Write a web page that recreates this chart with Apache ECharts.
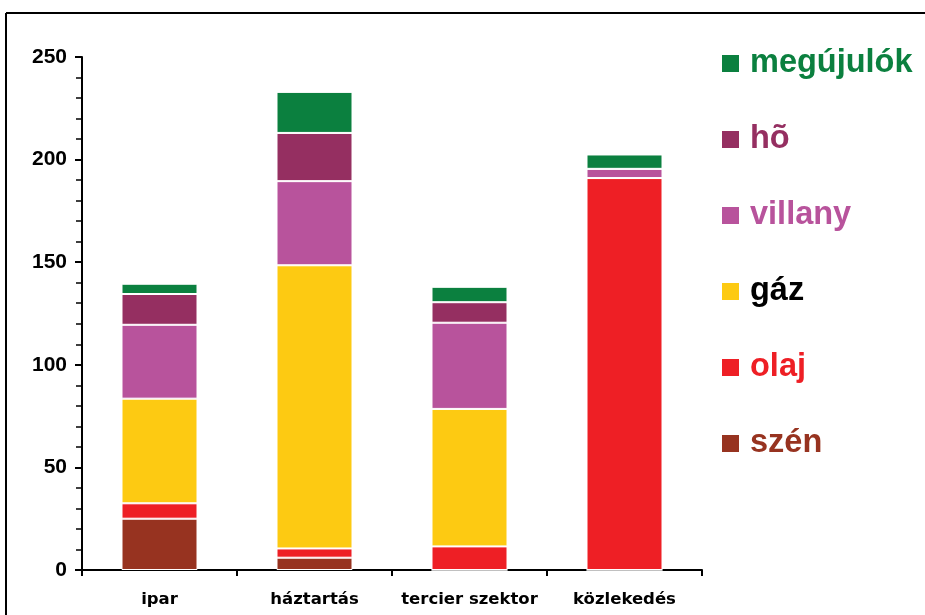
<!DOCTYPE html>
<html>
<head>
<meta charset="utf-8">
<script src="https://cdn.jsdelivr.net/npm/echarts@6/dist/echarts.min.js"></script>
<style>
html,body{margin:0;padding:0;background:#fff;}
#c{width:925px;height:615px;}
</style>
</head>
<body>
<div id="c"></div>
<script>
var categories = ['ipar', 'háztartás', 'tercier szektor', 'közlekedés'];
var szen = [25, 6, 0, 0];
var olaj = [7.5, 4.5, 11.5, 191];
var gaz = [51, 138, 67, 0];
var villany = [36, 41, 42, 4.5];
var ho = [15, 23.5, 10, 0];
var megujulok = [5, 20, 7.5, 7];
var yTicks = { min: 0, max: 250, interval: 50 };

var names = ['szén', 'olaj', 'gáz', 'villany', 'hõ', 'megújulók'];
var values = [szen, olaj, gaz, villany, ho, megujulok];
var colors = ['#973320', '#ee1f25', '#fdca12', '#b8539c', '#952f61', '#0b803f'];
var textColors = ['#973320', '#ee1f25', '#000000', '#b8539c', '#952f61', '#0b803f'];

var chart = echarts.init(document.getElementById('c'));
var series = names.map(function (n, i) {
  return {
    name: n,
    type: 'bar',
    stack: 'total',
    barWidth: 76,
    data: values[i],
    itemStyle: { color: colors[i], borderColor: '#ffffff', borderWidth: 1 }
  };
});
var legendData = names.slice().reverse().map(function (n) {
  var i = names.indexOf(n);
  return { name: n, icon: 'rect', textStyle: { color: textColors[i] } };
});

chart.setOption({
  animation: false,
  backgroundColor: '#ffffff',
  graphic: [
    { type: 'line', shape: { x1: 6, y1: 13, x2: 925, y2: 13 }, style: { stroke: '#000', lineWidth: 2 } },
    { type: 'line', shape: { x1: 6, y1: 13, x2: 6, y2: 615 }, style: { stroke: '#000', lineWidth: 2 } }
  ],
  legend: {
    orient: 'vertical',
    left: 720,
    top: 47,
    padding: 0,
    itemWidth: 19,
    itemHeight: 19,
    itemGap: 43,
    data: legendData,
    textStyle: {
      fontFamily: 'Liberation Sans',
      fontWeight: 'bold',
      fontSize: 32.5,
      lineHeight: 32,
      padding: [0, 0, 0, 5]
    }
  },
  grid: { left: 82, right: 223, top: 57, bottom: 45, containLabel: false },
  xAxis: {
    type: 'category',
    data: categories,
    axisLine: { lineStyle: { color: '#000', width: 2 } },
    axisTick: { show: true, length: 6, lineStyle: { color: '#000', width: 2 } },
    axisLabel: {
      interval: 0,
      margin: 21,
      color: '#000',
      fontFamily: 'DejaVu Sans',
      fontWeight: 'bold',
      fontSize: 16.5
    }
  },
  yAxis: {
    type: 'value',
    min: yTicks.min,
    max: yTicks.max,
    interval: yTicks.interval,
    axisLine: { show: true, lineStyle: { color: '#000', width: 2 } },
    axisTick: { show: true, length: 7, lineStyle: { color: '#000', width: 2 } },
    minorTick: { show: true, splitNumber: 5, length: 6, lineStyle: { color: '#000', width: 1.5 } },
    splitLine: { show: false },
    axisLabel: {
      margin: 15,
      color: '#000',
      fontFamily: 'Liberation Sans',
      fontWeight: 'bold',
      fontSize: 21
    }
  },
  series: series
});
</script>
</body>
</html>
